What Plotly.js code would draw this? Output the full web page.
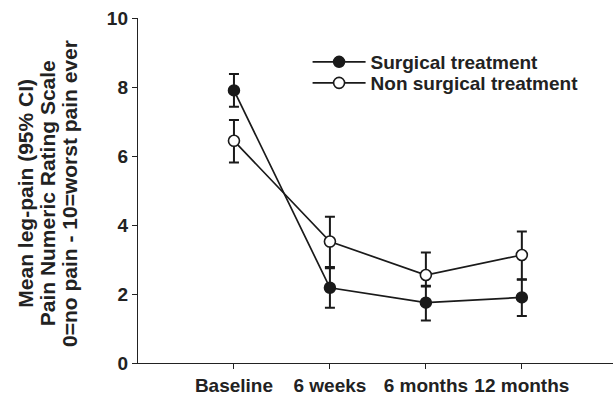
<!DOCTYPE html>
<html>
<head>
<meta charset="utf-8">
<script src="https://cdn.plot.ly/plotly-3.0.1.min.js"></script>
<style>html,body{margin:0;padding:0;background:#fff;}#chart{width:613px;height:398px;}</style>
</head>
<body>
<div id="chart"></div>
<script>
var categories = ['Baseline', '6 weeks', '6 months', '12 months'];
var surgicalMean = [7.90, 2.18, 1.75, 1.90];
var surgicalUpper = [8.38, 2.78, 2.24, 2.43];
var surgicalLower = [7.43, 1.60, 1.23, 1.36];
var nonSurgicalMean = [6.44, 3.52, 2.55, 3.13];
var nonSurgicalUpper = [7.04, 4.24, 3.20, 3.81];
var nonSurgicalLower = [5.81, 2.75, 2.22, 2.41];
var yTicks = [0, 2, 4, 6, 8, 10];
var yTitleLines = ['Mean leg-pain (95% CI)', 'Pain Numeric Rating Scale', '0=no pain - 10=worst pain ever'];

function plus(m, u) { return m.map(function (v, i) { return u[i] - v; }); }
function minus(m, l) { return m.map(function (v, i) { return v - l[i]; }); }
var xIdx = categories.map(function (c, i) { return i; });

var font = 'Liberation Sans, Arial, Helvetica, sans-serif';
var ink = '#1a1a1a';
var errStyle = {thickness: 2, width: 5, color: ink};

var traces = [
  {
    x: xIdx, y: surgicalMean, name: 'Surgical treatment', type: 'scatter', mode: 'lines+markers',
    legend: 'legend',
    line: {color: ink, width: 1.7},
    marker: {symbol: 'circle', size: 11, color: ink, line: {color: ink, width: 1.5}},
    error_y: Object.assign({type: 'data', symmetric: false, array: plus(surgicalMean, surgicalUpper), arrayminus: minus(surgicalMean, surgicalLower)}, errStyle)
  },
  {
    x: xIdx, y: nonSurgicalMean, name: 'Non surgical treatment', type: 'scatter', mode: 'lines+markers',
    legend: 'legend2',
    line: {color: ink, width: 1.7},
    marker: {symbol: 'circle', size: 11, color: '#ffffff', line: {color: ink, width: 1.6}},
    error_y: Object.assign({type: 'data', symmetric: false, array: plus(nonSurgicalMean, nonSurgicalUpper), arrayminus: minus(nonSurgicalMean, nonSurgicalLower)}, errStyle)
  }
];

var legendFont = {family: font, size: 19, color: '#222', weight: 'bold'};
var legendBase = {x: 0.357, xanchor: 'left', yanchor: 'middle', bgcolor: 'rgba(0,0,0,0)', font: legendFont, itemwidth: 53};

var annotations = yTitleLines.map(function (t, i) {
  var xs = [-0.2364, -0.1888, -0.1432];
  return {text: t, xref: 'paper', yref: 'paper', x: xs[i], y: 0.4928, xanchor: 'center', yanchor: 'middle',
          textangle: -90, showarrow: false, font: {family: font, size: 21, color: '#222', weight: 'bold'}};
});

var layout = {
  width: 613, height: 398,
  margin: {l: 138, r: 0, t: 18, b: 35},
  paper_bgcolor: '#fff', plot_bgcolor: '#fff',
  font: {family: font, color: '#222', size: 19, weight: 'bold'},
  showlegend: true,
  legend: Object.assign({y: 0.8725}, legendBase),
  legend2: Object.assign({y: 0.8116}, legendBase),
  annotations: annotations,
  xaxis: {
    range: [-1.0, 3.95], tickmode: 'array', tickvals: xIdx, ticktext: categories,
    showline: true, linecolor: '#222', linewidth: 1.2, ticks: 'outside', ticklen: 5, tickcolor: '#222',
    showgrid: false, zeroline: false,
    tickfont: {family: font, size: 19, color: '#222', weight: 'bold'}
  },
  yaxis: {
    range: [0, 10], tickmode: 'array', tickvals: yTicks,
    showline: true, linecolor: '#222', linewidth: 1.2, ticks: 'outside', ticklen: 5, tickcolor: '#222',
    showgrid: false, zeroline: false,
    tickfont: {family: font, size: 19, color: '#222', weight: 'bold'}
  }
};

Plotly.newPlot('chart', traces, layout, {staticPlot: true, displayModeBar: false});
</script>
</body>
</html>
